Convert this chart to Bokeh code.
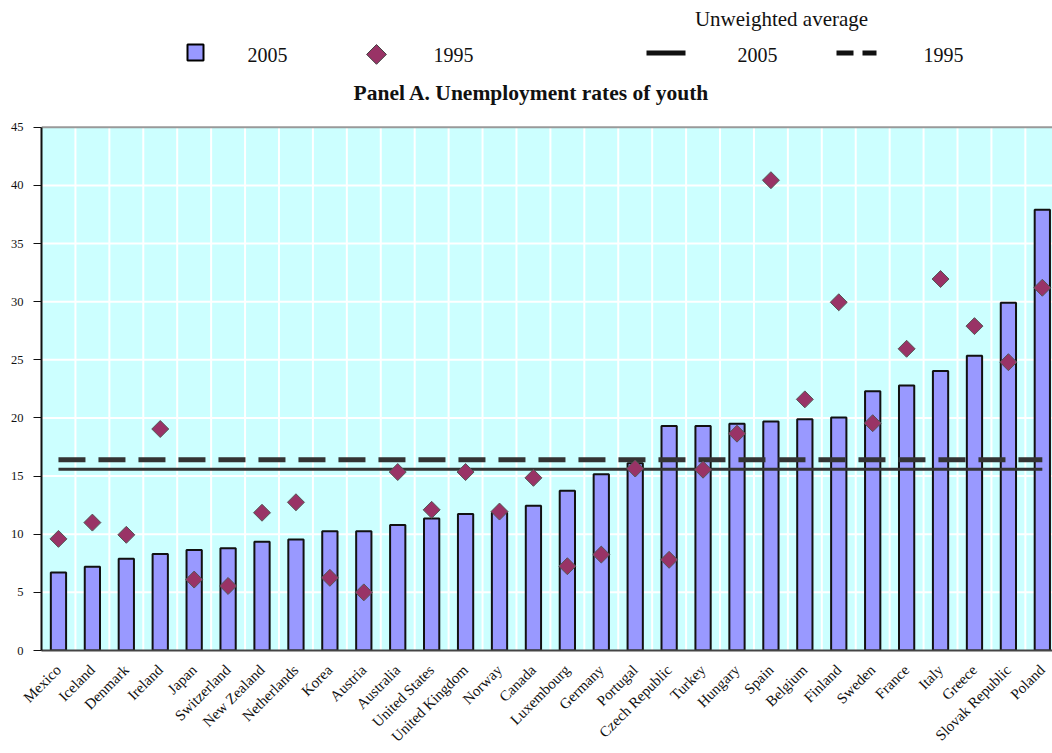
import math
from bokeh.plotting import figure
from bokeh.models import Range1d, FixedTicker
from bokeh.core.properties import value
from bokeh.embed import file_html
from bokeh.resources import INLINE

# ---------------- data ----------------
countries = ["Mexico", "Iceland", "Denmark", "Ireland", "Japan", "Switzerland",
             "New Zealand", "Netherlands", "Korea", "Austria", "Australia",
             "United States", "United Kingdom", "Norway", "Canada", "Luxembourg",
             "Germany", "Portugal", "Czech Republic", "Turkey", "Hungary", "Spain",
             "Belgium", "Finland", "Sweden", "France", "Italy", "Greece",
             "Slovak Republic", "Poland"]
rate_2005 = [6.7, 7.2, 7.9, 8.3, 8.65, 8.8, 9.35, 9.55, 10.25, 10.25, 10.8,
             11.35, 11.75, 11.85, 12.45, 13.75, 15.15, 16.1, 19.3, 19.3, 19.5,
             19.7, 19.9, 20.05, 22.3, 22.8, 24.05, 25.35, 29.9, 37.9]
rate_1995 = [9.6, 11.0, 9.95, 19.05, 6.1, 5.55, 11.85, 12.75, 6.25, 5.0, 15.35,
             12.1, 15.35, 11.95, 14.85, 7.25, 8.25, 15.65, 7.8, 15.55, 18.65,
             40.45, 21.6, 29.95, 19.55, 25.95, 31.95, 27.9, 24.8, 31.2]
avg_2005 = 15.6
avg_1995 = 16.4
y_ticks = [0, 5, 10, 15, 20, 25, 30, 35, 40, 45]

FONT = value("Liberation Serif")
BAR_COLOR = "#9999FF"
DIAMOND_COLOR = "#993366"
BG = "#CCFFFF"

n = len(countries)
xs = [i + 0.5 for i in range(n)]
Y_MAX = y_ticks[-1]

# ---------------- layout geometry (pixels) ----------------
W, H = 1052, 753
LEFT, BOTTOM = 41, 102          # frame borders
FRAME_W = W - LEFT
FRAME_H = H - BOTTOM            # frame spans from the top of the page
PLOT_TOP_PX = 127               # page y of the 45 line
X_END = 29.8
PX_PER_X = FRAME_W / X_END
PX_PER_Y = (FRAME_H - PLOT_TOP_PX) / Y_MAX
Y_END = FRAME_H / PX_PER_Y


def hx(px):
    """page x pixel -> data x (for header/legend items only)"""
    return (px - LEFT) / PX_PER_X


def hy(py):
    """page y pixel -> data y (for header/legend items only)"""
    return (FRAME_H - py) / PX_PER_Y


p = figure(width=W, height=H, title=None, x_range=Range1d(0, X_END),
           y_range=Range1d(0, Y_END), toolbar_location=None, output_backend="svg",
           min_border_left=LEFT, min_border_right=0, min_border_top=0,
           min_border_bottom=BOTTOM, outline_line_color=None)
p.background_fill_color = "white"
p.border_fill_color = "white"
p.xgrid.visible = False
p.ygrid.visible = False

# plot area background and grid
p.quad(left=[0], right=[n], bottom=[0], top=[Y_MAX], fill_color=BG, line_color=None)
p.segment(x0=list(range(1, n)), y0=[0] * (n - 1), x1=list(range(1, n)),
          y1=[Y_MAX] * (n - 1), line_color="white", line_width=2)
gy = y_ticks[1:-1]
p.segment(x0=[0] * len(gy), y0=gy, x1=[n] * len(gy), y1=gy,
          line_color="white", line_width=2)
p.segment(x0=[0], y0=[Y_MAX], x1=[n], y1=[Y_MAX], line_color="#999999", line_width=2)

# data
p.vbar(x=xs, top=rate_2005, width=0.45, bottom=0, fill_color=BAR_COLOR,
       line_color="#111111", line_width=2)
p.line(x=xs, y=[avg_1995] * n, line_color="#333333", line_width=5, line_dash="27 13")
p.line(x=xs, y=[avg_2005] * n, line_color="#333333", line_width=3)
p.scatter(x=xs, y=rate_1995, marker="square", size=12, angle=math.pi / 4,
          fill_color=DIAMOND_COLOR, line_color="#555555", line_width=1)

# ---------------- legend + title ----------------
p.text(x=[hx(781)], y=[hy(19)], text=["Unweighted average"], text_font=FONT,
       text_font_size=value("21px"), text_align="center",
       text_baseline="alphabetic", text_color="#111111")
p.scatter(x=[hx(195)], y=[hy(52)], marker="square", size=16, fill_color=BAR_COLOR,
          line_color="black", line_width=2)
p.scatter(x=[hx(376)], y=[hy(54)], marker="square", size=14, angle=math.pi / 4,
          fill_color=DIAMOND_COLOR, line_color="#444444", line_width=1)
p.segment(x0=[hx(646)], y0=[hy(52.5)], x1=[hx(685)], y1=[hy(52.5)],
          line_color="#111111", line_width=5)
p.segment(x0=[hx(836), hx(862)], y0=[hy(52.5)] * 2, x1=[hx(853), hx(876)],
          y1=[hy(52.5)] * 2, line_color="#111111", line_width=5)
p.text(x=[hx(247), hx(433), hx(737), hx(923)], y=[hy(55)] * 4,
       text=["2005", "1995", "2005", "1995"], text_font=FONT,
       text_font_size=value("20px"), text_align="left",
       text_baseline="alphabetic", text_color="#111111")
p.text(x=[hx(531)], y=[hy(93)], text=["Panel A. Unemployment rates of youth"],
       text_font=FONT, text_font_size=value("21.5px"), text_font_style="bold",
       text_align="center", text_baseline="alphabetic", text_color="#111111")

# ---------------- axes ----------------
p.yaxis.bounds = (0, Y_MAX)
p.yaxis.ticker = FixedTicker(ticks=y_ticks)
p.yaxis.major_label_text_font = "Liberation Serif"
p.yaxis.major_label_text_font_size = "12.5px"
p.yaxis.major_label_text_color = "#111111"
p.yaxis.major_label_standoff = 10
p.yaxis.major_tick_out = 8
p.yaxis.major_tick_in = 0
p.yaxis.major_tick_line_color = "#111111"
p.yaxis.minor_tick_line_color = None
p.yaxis.axis_line_color = "#111111"
p.yaxis.axis_line_width = 2

p.xaxis.ticker = FixedTicker(ticks=xs)
p.xaxis.major_label_overrides = {x: c for x, c in zip(xs, countries)}
p.xaxis.major_label_orientation = math.pi / 4
p.xaxis.major_label_text_font = "Liberation Serif"
p.xaxis.major_label_text_font_size = "15px"
p.xaxis.major_label_text_color = "#111111"
p.xaxis.major_label_standoff = 17
p.xaxis.major_tick_out = 0
p.xaxis.major_tick_in = 0
p.xaxis.major_tick_line_color = None
p.xaxis.minor_tick_line_color = None
p.xaxis.axis_line_color = "#444444"
p.xaxis.axis_line_width = 2

open("out.html", "w").write(file_html(p, INLINE))
